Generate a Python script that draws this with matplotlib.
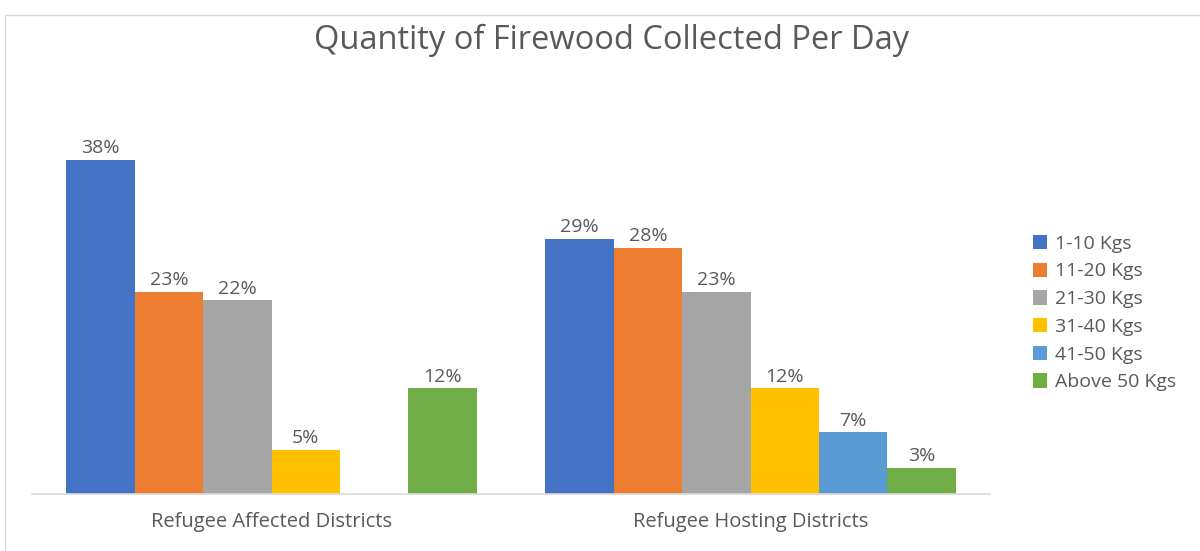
import numpy as np
import matplotlib
matplotlib.use("Agg")
import matplotlib.pyplot as plt
from matplotlib.patches import Rectangle

categories = ["Refugee Affected Districts", "Refugee Hosting Districts"]
series_names = ["1-10 Kgs", "11-20 Kgs", "21-30 Kgs", "31-40 Kgs", "41-50 Kgs", "Above 50 Kgs"]
# percent of households per category; None = no response in that band
series_values = [
    [38, 29],
    [23, 28],
    [22, 23],
    [5, 12],
    [None, 7],
    [12, 3],
]
colors = ["#4472C4", "#ED7D31", "#A5A5A5", "#FFC000", "#5B9BD5", "#70AD47"]

plt.rcParams["font.family"] = ["Open Sans", "DejaVu Sans"]
text_color = "#595959"

fig = plt.figure(figsize=(12, 5.51), dpi=100)
fig.patch.set_facecolor("white")
fig.patches.append(Rectangle((5 / 1200, -0.1), 1.2, 1.1 - 15 / 551,
                             transform=fig.transFigure, fill=False,
                             edgecolor="#d9d9d9", linewidth=1.0))

ax = fig.add_axes([32 / 1200, 1 - 494 / 551, (990 - 32) / 1200, (494 - 142) / 551])
x = np.arange(len(categories))
n = len(series_names)
width = 1 / (n + 1)

for i, (name, vals, c) in enumerate(zip(series_names, series_values, colors)):
    offs = x + (i - (n - 1) / 2) * width
    h = [v if v is not None else 0 for v in vals]
    bars = ax.bar(offs, h, width=width, color=c, label=name)
    for b, v in zip(bars, vals):
        if v is None:
            continue
        ax.text(b.get_x() + b.get_width() / 2, v + 0.3, f"{v}%", ha="center",
                va="bottom", fontsize=14, color=text_color)

ax.set_xlim(-0.5, 1.5)
ax.set_ylim(0, 40)
ax.set_yticks([])
ax.set_xticks(x)
ax.set_xticklabels(categories, fontsize=14.5, color=text_color)
ax.tick_params(axis="x", length=0, pad=13)
for s in ["top", "right", "left"]:
    ax.spines[s].set_visible(False)
ax.spines["bottom"].set_color("#d9d9d9")
ax.spines["bottom"].set_linewidth(1.2)

fig.text(612 / 1200, 1 - 40 / 551, "Quantity of Firewood Collected Per Day",
         ha="center", va="center", fontsize=23.5, color=text_color)

leg = fig.legend(loc="upper left", bbox_to_anchor=(1025 / 1200, 1 - 227 / 551),
                 frameon=False, fontsize=14, handlelength=0.75, handleheight=0.75,
                 handletextpad=0.4, labelspacing=0.5, borderaxespad=0)
for t in leg.get_texts():
    t.set_color(text_color)

fig.savefig("out.png", dpi=100, facecolor="white")
